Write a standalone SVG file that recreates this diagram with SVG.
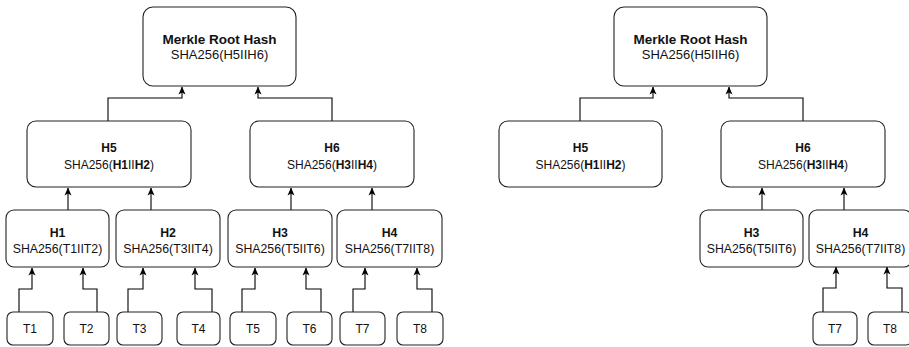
<svg xmlns="http://www.w3.org/2000/svg" width="909" height="347" viewBox="0 0 909 347">
  <defs>
    <marker id="arrow" viewBox="0 0 8 8" markerWidth="8" markerHeight="8" refX="7.5" refY="4" orient="auto" markerUnits="userSpaceOnUse">
      <path d="M0,0.5 L8,4 L0,7.5 L2,4 Z" fill="#000"/>
    </marker>
  </defs>
  <style>
    .box { fill: #fff; stroke: #222; stroke-width: 1.1; }
    .edge { fill: none; stroke: #000; stroke-width: 1.1; marker-end: url(#arrow); }
    text { font-family: "Liberation Sans", Arial, Helvetica, sans-serif; fill: #111; text-anchor: middle; }
    .b { font-weight: bold; }
    .t13 { font-size: 13px; }
    .t13b { font-size: 13.5px; font-weight: bold; }
    .t12 { font-size: 12px; }
    .t11 { font-size: 12.3px; }
  </style>

  <rect width="909" height="347" fill="#fff"/>

  <!-- connectors: full tree (left) and pruned tree (right) -->
  <g id="connectors">
    <!-- left tree: level 1 -> root -->
    <path class="edge" d="M108,121 V98 H182 V87"/>
    <path class="edge" d="M332,121 V98 H258 V87"/>
    <!-- left tree: level 2 -> level 1 -->
    <path class="edge" d="M68,210 V188"/>
    <path class="edge" d="M151,210 V188"/>
    <path class="edge" d="M291,210 V188"/>
    <path class="edge" d="M372,210 V188"/>
    <!-- left tree: leaves -> level 2 -->
    <path class="edge" d="M19,312 V289 H32 V268"/>
    <path class="edge" d="M97,312 V289 H83 V268"/>
    <path class="edge" d="M128,312 V289 H143 V268"/>
    <path class="edge" d="M212,312 V289 H195 V268"/>
    <path class="edge" d="M242,312 V289 H255 V268"/>
    <path class="edge" d="M321,312 V289 H306 V268"/>
    <path class="edge" d="M353,312 V289 H365 V268"/>
    <path class="edge" d="M432,312 V289 H417 V268"/>
    <!-- right tree -->
    <path class="edge" d="M580,121 V98 H653 V87"/>
    <path class="edge" d="M803,121 V98 H729 V87"/>
    <path class="edge" d="M762,210 V188"/>
    <path class="edge" d="M844,210 V188"/>
    <path class="edge" d="M823,312 V288 H836 V267"/>
    <path class="edge" d="M902,312 V288 H887 V267"/>
  </g>

  <!-- ===== Full Merkle tree ===== -->
  <g id="root-a">
    <rect class="box" x="143" y="7" width="153" height="79" rx="10"/>
    <text class="t13b" x="219.5" y="44">Merkle Root Hash</text>
    <text class="t13" x="219.5" y="59">SHA256(H5IIH6)</text>
  </g>
  <g id="h5-a">
    <rect class="box" x="27" y="121" width="164" height="66" rx="9"/>
    <text class="t12 b" x="109" y="152">H5</text>
    <text class="t12" x="109" y="169">SHA256(<tspan class="b">H1</tspan>II<tspan class="b">H2</tspan>)</text>
  </g>
  <g id="h6-a">
    <rect class="box" x="250" y="121" width="164" height="66" rx="9"/>
    <text class="t12 b" x="332" y="152">H6</text>
    <text class="t12" x="332" y="169">SHA256(<tspan class="b">H3</tspan>II<tspan class="b">H4</tspan>)</text>
  </g>
  <g id="h1-a">
    <rect class="box" x="6" y="210" width="103" height="57" rx="8"/>
    <text class="t11 b" x="57.5" y="237">H1</text>
    <text class="t11" x="57.5" y="252.5">SHA256(T1IIT2)</text>
  </g>
  <g id="h2-a">
    <rect class="box" x="116" y="210" width="104" height="57" rx="8"/>
    <text class="t11 b" x="168" y="237">H2</text>
    <text class="t11" x="168" y="252.5">SHA256(T3IIT4)</text>
  </g>
  <g id="h3-a">
    <rect class="box" x="228" y="210" width="104" height="57" rx="8"/>
    <text class="t11 b" x="280" y="237">H3</text>
    <text class="t11" x="280" y="252.5">SHA256(T5IIT6)</text>
  </g>
  <g id="h4-a">
    <rect class="box" x="337" y="210" width="105" height="57" rx="8"/>
    <text class="t11 b" x="389.5" y="237">H4</text>
    <text class="t11" x="389.5" y="252.5">SHA256(T7IIT8)</text>
  </g>
  <g id="t1-a"><rect class="box" x="7" y="312" width="46" height="33" rx="6"/><text class="t12" x="30" y="333">T1</text></g>
  <g id="t2-a"><rect class="box" x="64" y="312" width="45" height="33" rx="6"/><text class="t12" x="86.5" y="333">T2</text></g>
  <g id="t3-a"><rect class="box" x="117" y="312" width="45" height="33" rx="6"/><text class="t12" x="139.5" y="333">T3</text></g>
  <g id="t4-a"><rect class="box" x="177" y="312" width="43" height="33" rx="6"/><text class="t12" x="198.5" y="333">T4</text></g>
  <g id="t5-a"><rect class="box" x="230" y="312" width="46" height="33" rx="6"/><text class="t12" x="253" y="333">T5</text></g>
  <g id="t6-a"><rect class="box" x="287" y="312" width="45" height="33" rx="6"/><text class="t12" x="309.5" y="333">T6</text></g>
  <g id="t7-a"><rect class="box" x="340" y="312" width="45" height="33" rx="6"/><text class="t12" x="362.5" y="333">T7</text></g>
  <g id="t8-a"><rect class="box" x="397" y="312" width="46" height="33" rx="6"/><text class="t12" x="420" y="333">T8</text></g>

  <!-- ===== Pruned Merkle tree ===== -->
  <g id="root-b">
    <rect class="box" x="614" y="7" width="153" height="79" rx="10"/>
    <text class="t13b" x="690.5" y="44">Merkle Root Hash</text>
    <text class="t13" x="690.5" y="59">SHA256(H5IIH6)</text>
  </g>
  <g id="h5-b">
    <rect class="box" x="499" y="121" width="163" height="66" rx="9"/>
    <text class="t12 b" x="580.5" y="152">H5</text>
    <text class="t12" x="580.5" y="169">SHA256(<tspan class="b">H1</tspan>II<tspan class="b">H2</tspan>)</text>
  </g>
  <g id="h6-b">
    <rect class="box" x="721" y="121" width="164" height="66" rx="9"/>
    <text class="t12 b" x="803" y="152">H6</text>
    <text class="t12" x="803" y="169">SHA256(<tspan class="b">H3</tspan>II<tspan class="b">H4</tspan>)</text>
  </g>
  <g id="h3-b">
    <rect class="box" x="700" y="210" width="103" height="57" rx="8"/>
    <text class="t11 b" x="751.5" y="237">H3</text>
    <text class="t11" x="751.5" y="252.5">SHA256(T5IIT6)</text>
  </g>
  <g id="h4-b">
    <rect class="box" x="809" y="210" width="103" height="57" rx="8"/>
    <text class="t11 b" x="860.5" y="237">H4</text>
    <text class="t11" x="860.5" y="252.5">SHA256(T7IIT8)</text>
  </g>
  <g id="t7-b"><rect class="box" x="813" y="312" width="44" height="33" rx="6"/><text class="t12" x="835" y="333">T7</text></g>
  <g id="t8-b"><rect class="box" x="868" y="312" width="44" height="33" rx="6"/><text class="t12" x="890" y="333">T8</text></g>
</svg>
